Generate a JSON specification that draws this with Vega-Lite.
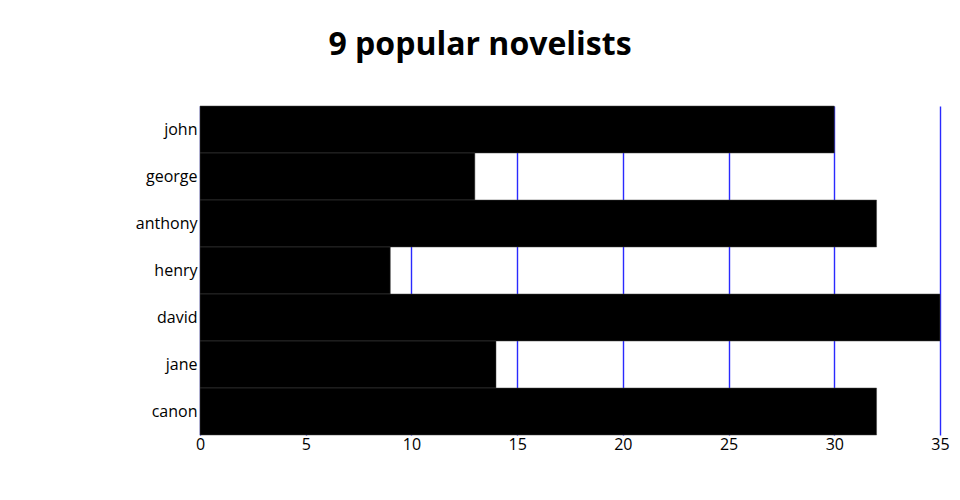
{
  "$schema": "https://vega.github.io/schema/vega-lite/v6.json",
  "autosize": "none",
  "width": 740,
  "height": 329,
  "padding": {"left": 200, "top": 106, "right": 20, "bottom": 65},
  "background": "white",
  "title": {
    "text": "9 popular novelists",
    "font": "Open Sans",
    "fontSize": 32,
    "fontWeight": "bold",
    "color": "black",
    "anchor": "middle",
    "dx": -90,
    "offset": 44
  },
  "data": {
    "values": [
      {"name": "john", "count": 30},
      {"name": "george", "count": 13},
      {"name": "anthony", "count": 32},
      {"name": "henry", "count": 9},
      {"name": "david", "count": 35},
      {"name": "jane", "count": 14},
      {"name": "canon", "count": 32}
    ]
  },
  "mark": {"type": "bar", "color": "black", "stroke": "#444444", "strokeWidth": 0.5},
  "encoding": {
    "y": {
      "field": "name",
      "type": "nominal",
      "sort": null,
      "scale": {"paddingInner": 0, "paddingOuter": 0},
      "axis": {
        "title": null,
        "ticks": false,
        "domain": false,
        "labelFont": "Open Sans",
        "labelFontSize": 16,
        "labelColor": "#000000",
        "labelPadding": 3
      }
    },
    "x": {
      "field": "count",
      "type": "quantitative",
      "scale": {"domain": [0, 35], "nice": false},
      "axis": {
        "title": null,
        "ticks": false,
        "domain": false,
        "values": [0, 5, 10, 15, 20, 25, 30, 35],
        "grid": true,
        "gridColor": "#2a2aff",
        "gridOpacity": 1,
        "gridWidth": 1.4,
        "labelFont": "Open Sans",
        "labelFontSize": 16,
        "labelColor": "#000000",
        "labelPadding": 1,
        "labelFlush": false
      }
    }
  },
  "config": {"view": {"stroke": null}}
}
